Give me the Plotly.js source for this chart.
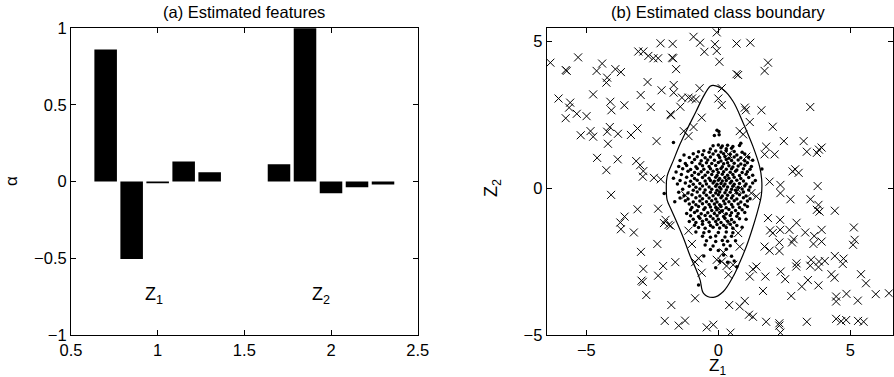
<!DOCTYPE html>
<html>
<head>
<meta charset="utf-8">
<script src="https://cdn.plot.ly/plotly-3.0.1.min.js"></script>
<style>html,body{margin:0;padding:0;background:#fff;}#chart{width:894px;height:377px;}</style>
</head>
<body>
<div id="chart"></div>
<script>
// ---- (a) Estimated features ----
const barPositions = [0.7, 0.85, 1.0, 1.15, 1.3, 1.7, 1.85, 2.0, 2.15, 2.3];
const barAlpha = [0.86, -0.505, -0.011, 0.13, 0.061, 0.113, 0.998, -0.076, -0.037, -0.02];
const groupLabels = ["Z<sub>1</sub>", "Z<sub>2</sub>"];
const groupLabelX = [0.98, 1.94];
const groupLabelY = [-0.74, -0.74];

// ---- (b) Estimated class boundary: class "x" points ----
const crossZ1 = [-6.36,-5.78,-5.74,-5.31,-6.05,-5.61,-5.65,-5.36,-5.78,-4.99,
-5.21,-4.74,-4.84,-4.74,-4.61,-4.40,-4.21,-4.24,-3.90,-3.69,
-4.09,-4.05,-3.56,-4.21,-4.11,-4.18,-3.80,-3.31,-3.06,-4.59,
-4.24,-3.81,-4.06,-3.11,-2.96,-2.84,-2.86,-2.44,-2.18,-2.34,
-3.03,-2.84,-2.65,-2.46,-2.28,-2.19,-1.73,-1.75,-1.71,-1.60,
-2.68,-2.94,-2.15,-1.69,-1.69,-2.56,-1.81,-1.79,-1.44,-1.38,
-1.13,-1.00,-0.85,-0.71,-0.94,-0.69,-0.53,-0.13,-0.06,-0.06,
0.04,0.69,1.21,0.69,0.75,1.75,1.88,0.13,0.00,0.13,
1.00,1.04,1.63,1.19,2.06,3.48,-0.63,-0.94,-1.31,-1.13,
0.81,0.94,1.81,1.75,2.13,2.48,3.23,3.35,3.73,3.91,
3.81,2.91,3.04,2.81,0.38,1.06,1.94,2.35,2.35,3.76,
2.73,3.49,3.79,3.83,3.73,4.41,1.88,2.34,2.96,2.69,
2.34,1.96,2.06,3.29,3.63,3.91,3.91,3.60,2.85,2.79,
2.31,2.31,1.75,1.94,5.13,5.16,5.10,4.41,4.74,4.71,
2.96,2.95,3.51,3.48,3.81,4.03,3.79,4.28,4.40,2.36,
2.53,3.39,3.16,3.79,5.40,5.59,2.76,4.46,4.46,4.85,
5.28,5.96,6.46,2.31,2.31,2.35,3.35,4.46,4.65,4.84,
5.29,5.50,1.81,1.31,1.16,1.00,0.81,0.41,0.46,-0.19,
-0.44,-0.88,1.69,1.19,1.78,1.44,1.31,0.38,0.56,0.31,
-0.06,-0.75,-0.88,-0.63,0.81,0.75,0.38,0.00,0.13,-1.00,
-1.13,-1.25,0.19,0.13,-1.63,-2.09,-2.28,-1.78,-2.03,-1.50,
-1.26,-2.73,-2.91,-2.86,-2.84,-2.93,-2.31,-3.20,-3.71,-3.69,
-3.55,-3.06,-2.28,-2.00,-1.88,-2.06,-1.81,1.25,1.44,0.75];
const crossZ2 = [4.27,4.02,3.99,4.45,3.05,2.91,2.74,2.53,2.38,2.45,
1.80,3.19,1.94,1.75,3.99,4.24,3.76,3.59,4.05,3.95,
2.94,2.65,2.82,1.92,2.08,1.51,1.85,1.81,2.03,1.03,
0.61,0.98,-0.23,0.92,0.78,0.58,0.39,0.35,0.30,1.60,
4.65,4.65,4.50,4.42,4.42,4.93,4.91,4.44,4.42,4.05,
3.61,3.17,3.33,3.51,3.25,2.76,2.51,2.48,2.77,3.08,
3.08,3.05,3.02,3.40,5.15,4.95,4.64,4.90,4.67,5.30,
4.30,4.92,4.95,3.88,3.85,3.99,4.27,3.40,3.05,2.83,
2.74,2.65,2.65,2.25,2.09,2.76,2.40,2.08,1.94,1.77,
1.94,1.83,1.41,1.15,1.15,1.60,1.60,1.24,1.20,1.38,
1.31,0.64,0.52,0.57,1.15,1.07,0.22,0.11,-0.17,0.07,
-0.38,-0.38,-0.57,-0.80,-0.74,-0.77,-1.02,-1.08,-1.18,-1.42,
-1.42,-1.44,-1.53,-1.51,-1.63,-1.42,-1.82,-1.90,-1.74,-1.85,
-1.85,-2.14,-1.99,-2.13,-1.34,-1.76,-1.93,-2.31,-2.40,-2.58,
-2.56,-2.67,-2.44,-2.64,-2.50,-2.48,-2.69,-2.93,-3.05,-2.84,
-3.10,-3.13,-3.35,-3.31,-2.93,-3.24,-3.67,-3.69,-3.86,-3.60,
-3.83,-3.61,-3.58,-4.60,-4.68,-4.92,-4.55,-4.45,-4.53,-4.49,
-4.52,-4.55,-4.55,-4.38,-4.31,-3.84,-4.03,-3.98,-4.92,-4.65,
-4.74,-3.75,-3.50,-3.01,-3.01,-2.67,-2.76,-2.95,-2.61,-2.65,
-2.44,-2.39,-2.52,-2.88,-1.99,-1.53,-1.19,-0.68,-0.80,-1.90,
-1.45,-0.24,-2.19,-2.50,-2.52,-2.65,-2.98,-3.98,-4.52,-4.68,
-4.51,-3.64,-3.15,-3.19,-2.75,-2.17,-1.90,-1.51,-1.17,-1.40,
-0.97,-0.72,-0.70,-1.08,-1.25,-1.19,-1.28,-0.17,-0.28,-0.06];

// ---- class "dot" points, [Z1, Z2] ----
const dotPoints = [
[-0.05,1.97],[0.02,1.93],[-0.15,1.79],[0.03,1.82],[-1.7,1.55],[0.85,1.53],
[-0.2,1.44],[0.0,1.47],[0.15,1.43],[0.35,1.46],[0.55,1.42],[0.8,1.45],
[-0.3,1.33],[0.1,1.37],[0.3,1.34],[0.5,1.36],
[-0.75,1.24],[-0.55,1.27],[-0.35,1.22],[-0.1,1.26],[0.1,1.23],[0.3,1.27],[0.6,1.25],[0.9,1.22],
[-1.3,1.13],[-0.95,1.17],[-0.6,1.14],[-0.2,1.16],[0.0,1.12],[0.2,1.17],[0.45,1.15],[0.7,1.13],[1.0,1.16],
[-1.1,1.04],[-0.8,1.07],[-0.5,1.03],[-0.3,1.06],[0.05,1.04],[0.25,1.08],[0.4,1.02],[0.6,1.06],[0.85,1.03],[1.15,1.05],
[-1.45,0.94],[-0.9,0.97],[-0.65,0.93],[-0.4,0.96],[-0.15,0.95],[0.1,0.92],[0.3,0.97],[0.5,0.94],[0.75,0.96],[1.0,0.93],[1.3,0.95],
[-1.25,0.84],[-1.0,0.87],[-0.7,0.83],[-0.45,0.86],[-0.25,0.84],[0.0,0.87],[0.2,0.83],[0.35,0.86],[0.6,0.85],[0.85,0.82],[1.1,0.86],
[-1.5,0.74],[-1.2,0.77],[-0.85,0.73],[-0.6,0.76],[-0.35,0.74],[-0.1,0.77],[0.15,0.73],[0.4,0.76],[0.55,0.72],[0.75,0.75],[1.0,0.78],[1.25,0.74],
[-1.35,0.66],[-1.05,0.63],[-0.8,0.67],[-0.55,0.64],[-0.3,0.66],[-0.05,0.63],[0.1,0.67],[0.3,0.64],[0.5,0.66],[0.7,0.62],[0.95,0.66],[1.2,0.64],[1.65,0.65],
[-1.6,0.55],[-1.15,0.57],[-0.9,0.53],[-0.65,0.56],[-0.4,0.54],[-0.2,0.57],[0.0,0.53],[0.2,0.56],[0.45,0.54],[0.65,0.57],[0.9,0.53],[1.1,0.56],
[-1.4,0.46],[-1.0,0.43],[-0.75,0.47],[-0.5,0.44],[-0.25,0.46],[-0.05,0.43],[0.15,0.47],[0.35,0.44],[0.55,0.46],[0.8,0.43],[1.05,0.47],[1.3,0.44],
[-1.7,0.34],[-1.2,0.37],[-0.9,0.33],[-0.6,0.36],[-0.35,0.34],[-0.1,0.37],[0.05,0.33],[0.25,0.36],[0.4,0.34],[0.6,0.37],[0.85,0.33],[1.15,0.36],
[-1.45,0.26],[-1.05,0.23],[-0.8,0.27],[-0.5,0.24],[-0.3,0.26],[-0.15,0.23],[0.0,0.27],[0.15,0.24],[0.3,0.26],[0.5,0.23],[0.7,0.27],[0.95,0.24],[1.4,0.26],
[-1.55,0.14],[-1.25,0.17],[-0.95,0.13],[-0.7,0.16],[-0.45,0.14],[-0.2,0.17],[-0.05,0.13],[0.1,0.16],[0.25,0.14],[0.45,0.17],[0.6,0.13],[0.8,0.16],[1.05,0.14],[1.3,0.17],
[-1.1,0.06],[-0.85,0.03],[-0.6,0.07],[-0.35,0.04],[-0.1,0.06],[0.05,0.03],[0.2,0.07],[0.35,0.04],[0.55,0.06],[0.75,0.03],[1.0,0.07],[1.2,0.04],
[-1.35,-0.04],[-0.95,-0.07],[-0.7,-0.03],[-0.5,-0.06],[-0.25,-0.04],[-0.05,-0.07],[0.1,-0.03],[0.3,-0.06],[0.5,-0.04],[0.65,-0.07],[0.9,-0.03],[1.15,-0.06],
[-2.05,-0.18],[-1.5,-0.14],[-1.15,-0.17],[-0.8,-0.13],[-0.55,-0.16],[-0.3,-0.14],[-0.1,-0.17],[0.05,-0.13],[0.25,-0.16],[0.45,-0.14],[0.7,-0.17],[0.95,-0.13],
[-1.3,-0.26],[-1.0,-0.23],[-0.7,-0.27],[-0.45,-0.24],[-0.2,-0.26],[0.0,-0.23],[0.15,-0.27],[0.35,-0.24],[0.55,-0.26],[0.8,-0.23],[1.05,-0.27],
[-1.45,-0.34],[-1.15,-0.37],[-0.85,-0.33],[-0.6,-0.36],[-0.35,-0.34],[-0.1,-0.37],[0.1,-0.33],[0.3,-0.36],[0.5,-0.34],[0.7,-0.37],[0.95,-0.33],[1.2,-0.36],
[-1.65,-0.46],[-1.25,-0.43],[-0.95,-0.47],[-0.7,-0.44],[-0.45,-0.46],[-0.25,-0.43],[-0.05,-0.47],[0.2,-0.44],[0.4,-0.46],[0.6,-0.43],[0.85,-0.47],[1.1,-0.44],
[-1.1,-0.54],[-0.85,-0.57],[-0.6,-0.53],[-0.35,-0.56],[-0.15,-0.54],[0.05,-0.57],[0.25,-0.53],[0.5,-0.56],[0.75,-0.54],[1.0,-0.57],
[-1.0,-0.66],[-0.75,-0.63],[-0.5,-0.67],[-0.3,-0.64],[-0.1,-0.66],[0.1,-0.63],[0.3,-0.67],[0.55,-0.64],[0.8,-0.66],[1.1,-0.63],
[-1.05,-0.74],[-0.8,-0.77],[-0.55,-0.73],[-0.25,-0.76],[-0.05,-0.74],[0.15,-0.77],[0.4,-0.73],[0.65,-0.76],[0.9,-0.74],
[-1.2,-0.86],[-0.9,-0.83],[-0.65,-0.87],[-0.4,-0.84],[-0.15,-0.86],[0.05,-0.83],[0.3,-0.87],[0.5,-0.84],[0.75,-0.86],[1.0,-0.83],
[-1.05,-0.94],[-0.75,-0.97],[-0.5,-0.93],[-0.3,-0.96],[-0.05,-0.94],[0.2,-0.97],[0.45,-0.93],[0.7,-0.96],
[-0.95,-1.06],[-0.7,-1.03],[-0.45,-1.07],[-0.2,-1.04],[0.0,-1.06],[0.25,-1.03],[0.5,-1.07],[0.8,-1.04],[1.05,-1.06],
[-1.1,-1.14],[-0.85,-1.17],[-0.6,-1.13],[-0.35,-1.16],[-0.1,-1.14],[0.1,-1.17],[0.35,-1.13],[0.6,-1.16],
[-0.9,-1.26],[-0.6,-1.23],[-0.3,-1.27],[-0.05,-1.24],[0.2,-1.26],[0.45,-1.23],[0.7,-1.27],
[-0.75,-1.34],[-0.5,-1.37],[-0.2,-1.33],[0.05,-1.36],[0.3,-1.34],[0.55,-1.37],[0.9,-1.33],
[-0.85,-1.49],[-0.55,-1.52],[-0.35,-1.48],[0.0,-1.51],[0.3,-1.49],[0.55,-1.52],
[-0.6,-1.64],[-0.3,-1.67],[-0.1,-1.63],[0.25,-1.66],[0.5,-1.64],
[-0.45,-1.79],[-0.1,-1.82],[0.15,-1.78],[0.35,-1.81],[0.65,-1.79],
[-0.5,-1.94],[-0.2,-1.97],[0.2,-1.93],[0.45,-1.96],
[-0.3,-2.09],[0.0,-2.12],[0.3,-2.08],
[-0.55,-2.31],[0.2,-2.28],[0.5,-2.32],
[0.05,-2.49],[0.35,-2.52],[0.6,-2.48],
[-0.1,-2.71],[0.7,-2.68],[-0.75,-3.3]
];

// ---- estimated boundary (closed curve) ----
const boundaryZ1 = [-0.19,0.19,0.56,0.94,1.31,1.56,1.64,1.63,1.5,1.3,1.06,0.8,0.56,0.19,-0.19,-0.56,-0.69,-0.85,-1.06,-1.3,-1.56,-1.8,-1.94,-1.97,-1.94,-1.69,-1.45,-1.19,-0.85,-0.56,-0.31,-0.19];
const boundaryZ2 = [3.5,3.35,2.95,2.22,1.42,0.74,0.3,-0.23,-0.74,-1.35,-1.99,-2.55,-3.01,-3.52,-3.72,-3.58,-3.13,-2.75,-2.33,-1.75,-1.19,-0.7,-0.4,0.0,0.4,0.97,1.5,1.99,2.6,3.13,3.47,3.5];

const FONT = "Liberation Sans, Arial, Helvetica, sans-serif";

const traces = [
  {type: "bar", x: barPositions, y: barAlpha, width: 0.13, xaxis: "x", yaxis: "y",
   marker: {color: "#000", line: {width: 0}}, hoverinfo: "skip"},
  {type: "scatter", mode: "lines", x: boundaryZ1, y: boundaryZ2, xaxis: "x2", yaxis: "y2",
   line: {color: "#000", width: 1.2, shape: "spline", smoothing: 1}, hoverinfo: "skip"},
  {type: "scatter", mode: "markers", x: crossZ1, y: crossZ2, xaxis: "x2", yaxis: "y2",
   marker: {symbol: "x-thin-open", size: 8, color: "#000", line: {color: "#000", width: 1}}, hoverinfo: "skip"},
  {type: "scatter", mode: "markers", x: dotPoints.map(p => p[0]), y: dotPoints.map(p => p[1]), xaxis: "x2", yaxis: "y2",
   marker: {symbol: "circle", size: 3.5, color: "#000"}, hoverinfo: "skip"}
];

const axBase = {
  showgrid: false, zeroline: false, showline: true, linecolor: "#000", linewidth: 1,
  mirror: "ticks", ticks: "inside", ticklen: 5, tickwidth: 1, tickcolor: "#000",
  tickfont: {family: FONT, size: 16.5, color: "#000"}, fixedrange: true
};

const annotations = [
  {text: "(a) Estimated features", xref: "paper", yref: "paper", x: 0.273, y: 0.968, showarrow: false,
   font: {family: FONT, size: 16.5, color: "#000"}, xanchor: "center", yanchor: "middle"},
  {text: "(b) Estimated class boundary", xref: "paper", yref: "paper", x: 0.803, y: 0.968, showarrow: false,
   font: {family: FONT, size: 16.5, color: "#000"}, xanchor: "center", yanchor: "middle"},
  {text: "α", xref: "paper", yref: "paper", x: 0.0134, y: 0.52, textangle: -90, showarrow: false,
   font: {family: FONT, size: 17, color: "#000"}, xanchor: "center", yanchor: "middle"},
  {text: "Z<sub>2</sub>", xref: "paper", yref: "paper", x: 0.551, y: 0.5, textangle: -90, showarrow: false,
   font: {family: FONT, size: 18, color: "#000"}, xanchor: "center", yanchor: "middle"},
  {text: "Z<sub>1</sub>", xref: "paper", yref: "paper", x: 0.803, y: 0, showarrow: false,
   font: {family: FONT, size: 17, color: "#000"}, xanchor: "center", yanchor: "bottom", yshift: -3}
];
for (let i = 0; i < groupLabels.length; i++) {
  annotations.push({text: groupLabels[i], xref: "x", yref: "y", x: groupLabelX[i], y: groupLabelY[i],
    showarrow: false, font: {family: FONT, size: 18, color: "#000"}, xanchor: "center", yanchor: "middle"});
}

const layout = {
  width: 894, height: 377, margin: {l: 0, r: 0, t: 0, b: 0},
  paper_bgcolor: "#fff", plot_bgcolor: "#fff", showlegend: false,
  font: {family: FONT, color: "#000"},
  xaxis: Object.assign({}, axBase, {domain: [0.0794, 0.4672], range: [0.5, 2.5], tickvals: [0.5, 1, 1.5, 2, 2.5], ticktext: ["0.5","1","1.5","2","2.5"], anchor: "y"}),
  yaxis: Object.assign({}, axBase, {domain: [0.1114, 0.9257], range: [-1, 1], tickvals: [-1, -0.5, 0, 0.5, 1], anchor: "x"}),
  xaxis2: Object.assign({}, axBase, {domain: [0.6115, 0.9985], range: [-6.5, 6.6], tickvals: [-5, 0, 5], anchor: "y2"}),
  yaxis2: Object.assign({}, axBase, {domain: [0.1114, 0.9257], range: [-5, 5.45], tickvals: [-5, 0, 5], anchor: "x2"}),
  annotations: annotations
};

Plotly.newPlot("chart", traces, layout, {staticPlot: true, displayModeBar: false});
</script>
</body>
</html>
